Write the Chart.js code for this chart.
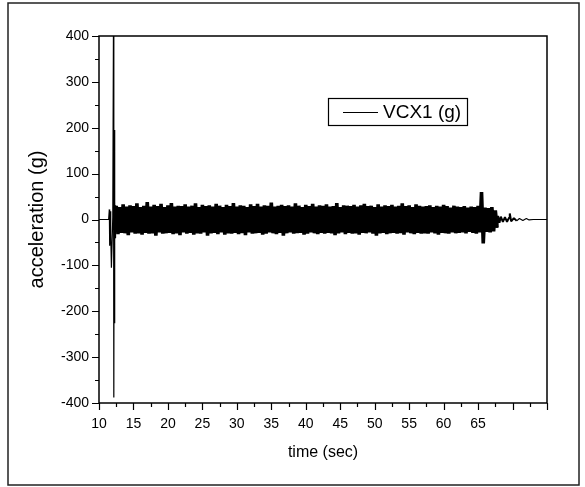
<!DOCTYPE html>
<html>
<head>
<meta charset="utf-8">
<script src="https://cdn.jsdelivr.net/npm/chart.js@4.4.0/dist/chart.umd.min.js"></script>
<style>
  html, body { margin: 0; padding: 0; background: #fff; }
  #wrap { width: 585px; height: 487px; }
</style>
</head>
<body>
<div id="wrap"><canvas id="accelChart" width="585" height="487"></canvas></div>
<script>
// start of the run: flat, small kick, then the big shock
const startTimes = [10, 11.4, 11.5, 11.55, 11.6, 11.7, 11.8, 12.0, 12.1, 12.15, 12.2, 12.25, 12.3, 12.35, 12.4];
const startAccel = [0, 0, 22, -57, 18, -30, -105, 5, 420, -388, 195, -226, 40, -40, 30];

// steady vibration band, one sample every 0.25 s from 12.5 s
const bandStart = 12.5;
const bandStep = 0.25;
const bandAccel = [
    30, -32, 27, -29, 33, -30, 28, -34, 31, -28, 29, -31, 35, -30, 27, -33, 30, -29, 38, -31,
    28, -30, 32, -35, 29, -28, 34, -31, 27, -30, 31, -29, 36, -32, 28, -30, 30, -34, 29, -28,
    33, -31, 28, -29, 30, -33, 35, -30, 27, -31, 32, -28, 29, -35, 31, -30, 28, -29, 34, -32,
    30, -28, 27, -33, 32, -30, 29, -31, 36, -29, 28, -32, 31, -30, 30, -34, 27, -28, 33, -31,
    29, -30, 34, -29, 28, -33, 31, -31, 30, -28, 37, -30, 28, -32, 30, -29, 32, -35, 29, -30,
    31, -28, 28, -31, 35, -30, 30, -29, 27, -33, 32, -31, 29, -28, 34, -30, 28, -32, 31, -29,
    30, -31, 33, -29, 28, -30, 29, -34, 36, -30, 27, -28, 31, -32, 30, -29, 29, -31, 32, -30,
    28, -33, 31, -29, 34, -30, 29, -28, 30, -31, 27, -35, 33, -30, 28, -29, 31, -32, 29, -30,
    32, -29, 28, -31, 30, -30, 35, -33, 29, -28, 31, -30, 27, -32, 33, -29, 30, -31, 28, -30,
    29, -31, 31, -28, 27, -30, 30, -33, 28, -29, 32, -30, 29, -31, 26, -28, 30, -30, 28, -29,
    27, -28, 29, -30, 26, -27, 28, -29, 27, -31, 30, -28, 60, -52, 26, -27, 25, -28, 27, -26,
    20, -18
];

// ring-down at the end
const tailTimes = [67.9, 68.1, 68.3, 68.6, 68.9, 69.2, 69.5, 69.6, 69.8, 70.2, 70.6, 71.0, 71.5, 72.0, 72.4, 73, 75];
const tailAccel = [8, -7, 6, -5, 5, -5, 4, 13, -4, 3, -3, 2, -2, 2, -1, 0, 0];

const xTicks = { min: 10, max: 75, step: 5, minor: 2.5, lastLabel: 65 };
const yTicks = { min: -400, max: 400, step: 100, minor: 50 };

const points = [];
startTimes.forEach((t, i) => points.push({ x: t, y: startAccel[i] }));
bandAccel.forEach((a, i) => points.push({ x: bandStart + i * bandStep, y: a }));
tailTimes.forEach((t, i) => points.push({ x: t, y: tailAccel[i] }));

const bandEnd = bandStart + (bandAccel.length - 1) * bandStep;

const FONT = '"Liberation Sans", Arial, sans-serif';

// plot box, minor/major ticks, legend and outer frame
const framePlugin = {
    id: 'frame',
    afterDraw(chart) {
        const ctx = chart.ctx;
        const a = chart.chartArea;
        const xs = chart.scales.x;
        const ys = chart.scales.y;
        ctx.save();
        ctx.strokeStyle = '#000';

        ctx.lineWidth = 1.5;
        ctx.strokeRect(a.left, a.top, a.right - a.left, a.bottom - a.top);

        ctx.lineWidth = 1.2;
        ctx.beginPath();
        for (let v = xTicks.min; v <= xTicks.max + 1e-9; v += xTicks.minor) {
            const px = Math.round(xs.getPixelForValue(v)) + 0.5;
            const len = (v % xTicks.step === 0) ? 7 : 4;
            ctx.moveTo(px, a.bottom);
            ctx.lineTo(px, a.bottom + len);
        }
        for (let v = yTicks.min; v <= yTicks.max; v += yTicks.minor) {
            const py = Math.round(ys.getPixelForValue(v)) + 0.5;
            const len = (v % yTicks.step === 0) ? 7 : 4;
            ctx.moveTo(a.left, py);
            ctx.lineTo(a.left - len, py);
        }
        ctx.stroke();

        // legend box
        ctx.lineWidth = 1.2;
        ctx.strokeRect(328.5, 98.5, 139, 27);
        ctx.beginPath();
        ctx.moveTo(343, 112.5);
        ctx.lineTo(378, 112.5);
        ctx.stroke();
        ctx.fillStyle = '#000';
        ctx.font = '19px ' + FONT;
        ctx.textBaseline = 'middle';
        ctx.fillText(chart.data.datasets[0].label, 383, 113);

        // outer frame
        ctx.lineWidth = 1.5;
        ctx.strokeStyle = '#222';
        ctx.strokeRect(8, 3, 571, 482);
        ctx.restore();
    }
};

new Chart(document.getElementById('accelChart').getContext('2d'), {
    type: 'line',
    data: {
        datasets: [{
            label: 'VCX1 (g)',
            data: points,
            borderColor: '#000',
            borderWidth: 1,
            pointRadius: 0,
            tension: 0,
            fill: false,
            borderJoinStyle: 'bevel',
            segment: {
                // the dense band reads as a solid black strip, the ring-down as a thinner one
                borderWidth: (c) => {
                    const x0 = c.p0.parsed.x, x1 = c.p1.parsed.x;
                    if (x0 >= bandStart && x1 <= bandEnd) return 3.6;
                    if (x0 >= bandEnd && x1 <= 70.6) return 2;
                    return 1.2;
                }
            }
        }]
    },
    options: {
        responsive: false,
        animation: false,
        events: [],
        layout: { padding: { left: 21, top: 36, right: 38, bottom: 21 } },
        plugins: {
            legend: { display: false },
            tooltip: { enabled: false }
        },
        scales: {
            x: {
                type: 'linear',
                min: xTicks.min,
                max: xTicks.max,
                grid: { display: false },
                border: { display: false },
                afterFit: (s) => { s.height = 63; },
                ticks: {
                    stepSize: xTicks.step,
                    autoSkip: false,
                    maxRotation: 0,
                    padding: 5,
                    color: '#000',
                    font: { family: FONT, size: 14 },
                    callback: (v) => (v <= xTicks.lastLabel ? v : '')
                },
                title: {
                    display: true,
                    text: 'time (sec)',
                    color: '#000',
                    font: { family: FONT, size: 16 }
                }
            },
            y: {
                min: yTicks.min,
                max: yTicks.max,
                grid: { display: false },
                border: { display: false },
                afterFit: (s) => { s.width = 78; },
                ticks: {
                    stepSize: yTicks.step,
                    padding: 2,
                    color: '#000',
                    font: { family: FONT, size: 14 }
                },
                title: {
                    display: true,
                    text: 'acceleration (g)',
                    color: '#000',
                    font: { family: FONT, size: 20 }
                }
            }
        }
    },
    plugins: [framePlugin]
});
</script>
</body>
</html>
